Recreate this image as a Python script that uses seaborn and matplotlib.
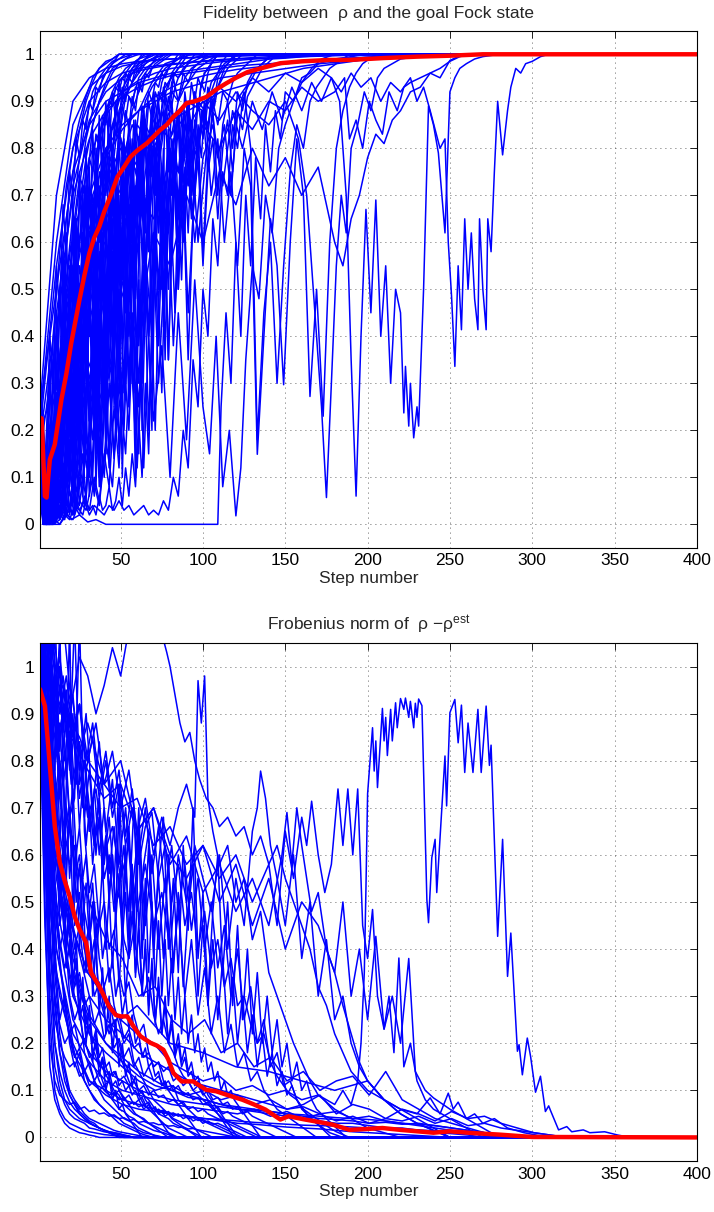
import numpy as np
import pandas as pd
import matplotlib
matplotlib.use('Agg')
import matplotlib.pyplot as plt
import seaborn as sns
from matplotlib.ticker import FuncFormatter

LAST_STEP = 400
FID_FINAL = 1.0
NORM_FINAL = 0.0

# ---------------- fidelity panel ----------------
# red mean curve
fid_mean_steps = [1, 2, 3, 4, 5, 6, 7, 10, 14, 17, 20, 25, 28, 31, 34, 37, 40, 44, 48, 52,
                  56, 60, 66, 70, 74, 78, 82, 86, 90, 95, 102, 108, 114, 120, 127, 135, 147,
                  160, 177, 189, 210, 230, 250, 270, 300, 400]
fid_mean_vals = [0.227, 0.225, 0.14, 0.06, 0.057, 0.10, 0.138, 0.17, 0.265, 0.32, 0.386, 0.478,
                 0.53, 0.577, 0.61, 0.633, 0.665, 0.70, 0.739, 0.76, 0.782, 0.795, 0.811, 0.825,
                 0.839, 0.85, 0.867, 0.88, 0.896, 0.90, 0.909, 0.925, 0.938, 0.95, 0.962, 0.97,
                 0.981, 0.985, 0.988, 0.988, 0.992, 0.995, 0.997, 1.0, 1.0, 1.0]

# runs sampled every 2 steps from step 1
fid_g01 = [0.22, 0.05, 0.00, 0.08, 0.03, 0.15, 0.06, 0.25, 0.12, 0.35, 0.20, 0.30, 0.45, 0.28, 0.55, 0.40, 0.62, 0.50, 0.70, 0.58, 0.75, 0.66, 0.80, 0.72, 0.85, 0.78, 0.88, 0.84, 0.91, 0.88, 0.94, 0.92, 0.96, 0.95, 0.97, 0.98, 0.985, 0.99, 0.995, 1.0]
fid_g02 = [0.30, 0.10, 0.02, 0.20, 0.10, 0.32, 0.22, 0.45, 0.30, 0.55, 0.48, 0.65, 0.58, 0.72, 0.68, 0.78, 0.75, 0.83, 0.80, 0.87, 0.85, 0.90, 0.89, 0.93, 0.92, 0.95, 0.94, 0.96, 0.97, 0.975, 0.98, 0.985, 0.99, 0.993, 0.996, 1.0]
fid_g03 = [0.10, 0.00, 0.01, 0.04, 0.01, 0.06, 0.02, 0.10, 0.04, 0.18, 0.08, 0.28, 0.12, 0.38, 0.20, 0.48, 0.30, 0.55, 0.42, 0.62, 0.35, 0.68, 0.50, 0.74, 0.60, 0.78, 0.66, 0.82, 0.72, 0.86, 0.80, 0.89, 0.85, 0.92, 0.90, 0.94, 0.93, 0.96, 0.95, 0.97, 0.98, 0.985, 0.99, 1.0]
fid_g04 = [0.26, 0.02, 0.10, 0.30, 0.15, 0.42, 0.25, 0.55, 0.35, 0.20, 0.48, 0.60, 0.38, 0.70, 0.52, 0.76, 0.45, 0.80, 0.65, 0.84, 0.72, 0.88, 0.78, 0.90, 0.85, 0.93, 0.90, 0.95, 0.94, 0.97, 0.96, 0.98, 0.99, 1.0]
fid_g05 = [0.05, 0.00, 0.00, 0.02, 0.00, 0.03, 0.01, 0.05, 0.02, 0.03, 0.08, 0.04, 0.12, 0.06, 0.20, 0.10, 0.30, 0.15, 0.40, 0.25, 0.50, 0.32, 0.58, 0.45, 0.66, 0.52, 0.72, 0.60, 0.78, 0.68, 0.82, 0.75, 0.86, 0.80, 0.89, 0.85, 0.92, 0.90, 0.94, 0.93, 0.96, 0.97, 0.98, 0.99, 1.0]
fid_g06 = [0.18, 0.00, 0.15, 0.05, 0.35, 0.12, 0.50, 0.25, 0.62, 0.40, 0.70, 0.30, 0.75, 0.55, 0.80, 0.48, 0.84, 0.65, 0.87, 0.72, 0.90, 0.80, 0.92, 0.86, 0.94, 0.90, 0.96, 0.95, 0.97, 0.98, 0.99, 1.0]
fid_g07 = [0.12, 0.01, 0.00, 0.01, 0.03, 0.01, 0.02, 0.06, 0.02, 0.04, 0.10, 0.03, 0.08, 0.15, 0.05, 0.22, 0.10, 0.30, 0.14, 0.38, 0.20, 0.46, 0.28, 0.55, 0.35, 0.60, 0.45, 0.68, 0.52, 0.72, 0.60, 0.78, 0.66, 0.82, 0.74, 0.86, 0.80, 0.88, 0.85, 0.91, 0.89, 0.93, 0.95, 0.96, 0.97, 0.98, 0.99, 1.0]
fid_g08 = [0.28, 0.06, 0.20, 0.40, 0.30, 0.55, 0.45, 0.68, 0.58, 0.75, 0.70, 0.82, 0.78, 0.86, 0.84, 0.90, 0.88, 0.93, 0.92, 0.95, 0.96, 0.97, 0.98, 0.99, 1.0]
fid_g09 = [0.15, 0.00, 0.04, 0.00, 0.08, 0.02, 0.15, 0.05, 0.22, 0.10, 0.32, 0.15, 0.25, 0.40, 0.18, 0.48, 0.30, 0.55, 0.22, 0.60, 0.40, 0.66, 0.35, 0.72, 0.55, 0.76, 0.48, 0.80, 0.65, 0.84, 0.72, 0.87, 0.80, 0.90, 0.86, 0.92, 0.90, 0.94, 0.96, 0.97, 0.98, 0.99, 1.0]
fid_g10 = [0.20, 0.03, 0.08, 0.18, 0.10, 0.28, 0.15, 0.38, 0.22, 0.45, 0.35, 0.55, 0.42, 0.62, 0.50, 0.68, 0.60, 0.74, 0.66, 0.79, 0.72, 0.83, 0.78, 0.86, 0.82, 0.89, 0.86, 0.91, 0.89, 0.93, 0.92, 0.95, 0.96, 0.97, 0.98, 0.99, 1.0]
fid_h01 = [0.16, 0.00, 0.02, 0.10, 0.03, 0.20, 0.05, 0.30, 0.10, 0.42, 0.15, 0.55, 0.20, 0.62, 0.30, 0.50, 0.68, 0.40, 0.72, 0.25, 0.65, 0.45, 0.78, 0.55, 0.70, 0.35, 0.80, 0.60, 0.75, 0.48, 0.82, 0.66, 0.85, 0.58, 0.80, 0.70, 0.86, 0.62, 0.88, 0.75, 0.90, 0.82, 0.88, 0.78, 0.92, 0.86, 0.94, 0.90, 0.95, 0.93, 0.96, 0.97, 0.98, 0.99, 1.0]
fid_h02 = [0.24, 0.02, 0.05, 0.02, 0.12, 0.04, 0.20, 0.08, 0.15, 0.30, 0.10, 0.40, 0.18, 0.35, 0.50, 0.22, 0.45, 0.60, 0.30, 0.55, 0.15, 0.62, 0.40, 0.70, 0.28, 0.58, 0.75, 0.45, 0.68, 0.20, 0.60, 0.78, 0.50, 0.72, 0.35, 0.80, 0.62, 0.75, 0.55, 0.84, 0.70, 0.86, 0.65, 0.88, 0.78, 0.90, 0.84, 0.92, 0.88, 0.94, 0.92, 0.96, 0.98, 0.99, 1.0]
fid_h03 = [0.08, 0.00, 0.00, 0.02, 0.05, 0.01, 0.08, 0.03, 0.12, 0.02, 0.06, 0.18, 0.04, 0.10, 0.25, 0.06, 0.15, 0.30, 0.08, 0.20, 0.38, 0.12, 0.28, 0.45, 0.15, 0.35, 0.52, 0.25, 0.42, 0.10, 0.50, 0.30, 0.58, 0.40, 0.20, 0.62, 0.45, 0.68, 0.35, 0.70, 0.55, 0.75, 0.50, 0.80, 0.62, 0.82, 0.70, 0.86, 0.78, 0.88, 0.84, 0.90, 0.92, 0.94, 0.96, 0.98, 0.99, 1.0]
fid_h04 = [0.28, 0.04, 0.15, 0.35, 0.12, 0.45, 0.22, 0.58, 0.30, 0.10, 0.48, 0.65, 0.25, 0.55, 0.70, 0.40, 0.62, 0.15, 0.50, 0.72, 0.35, 0.66, 0.78, 0.45, 0.60, 0.80, 0.30, 0.68, 0.82, 0.55, 0.75, 0.85, 0.62, 0.80, 0.88, 0.72, 0.90, 0.82, 0.92, 0.88, 0.94, 0.96, 0.97, 0.98, 0.99, 1.0]
fid_h05 = [0.14, 0.00, 0.01, 0.00, 0.02, 0.01, 0.03, 0.01, 0.02, 0.04, 0.02, 0.05, 0.03, 0.02, 0.05, 0.03, 0.04, 0.02, 0.06, 0.03, 0.04, 0.08, 0.03, 0.05, 0.10, 0.04, 0.12, 0.06, 0.15, 0.08, 0.22, 0.10, 0.30, 0.15, 0.40, 0.20, 0.48, 0.28, 0.55, 0.35, 0.62, 0.45, 0.70, 0.52, 0.76, 0.62, 0.80, 0.70, 0.85, 0.78, 0.88, 0.84, 0.91, 0.89, 0.93, 0.95, 0.97, 0.98, 0.99, 1.0]
fid_h06 = [0.20, 0.01, 0.06, 0.15, 0.05, 0.25, 0.10, 0.18, 0.35, 0.08, 0.28, 0.45, 0.12, 0.32, 0.52, 0.20, 0.40, 0.08, 0.30, 0.58, 0.15, 0.45, 0.65, 0.22, 0.50, 0.10, 0.40, 0.68, 0.30, 0.55, 0.72, 0.20, 0.48, 0.75, 0.38, 0.62, 0.80, 0.50, 0.70, 0.84, 0.60, 0.78, 0.88, 0.72, 0.85, 0.90, 0.82, 0.92, 0.88, 0.94, 0.96, 0.97, 0.98, 0.99, 1.0]

# runs sampled every 3 steps from step 1
fid_m01 = [0.20, 0.00, 0.02, 0.10, 0.05, 0.25, 0.10, 0.40, 0.15, 0.50, 0.22, 0.62, 0.30, 0.70, 0.45, 0.78, 0.55, 0.82, 0.60, 0.86, 0.70, 0.88, 0.65, 0.90, 0.80, 0.93, 0.85, 0.95, 0.90, 0.96, 0.94, 0.97, 0.98, 0.99, 1.0]
fid_m02 = [0.18, 0.00, 0.05, 0.02, 0.15, 0.03, 0.30, 0.08, 0.45, 0.12, 0.20, 0.55, 0.10, 0.35, 0.65, 0.25, 0.50, 0.72, 0.30, 0.60, 0.15, 0.68, 0.40, 0.75, 0.50, 0.80, 0.35, 0.70, 0.85, 0.60, 0.88, 0.75, 0.90, 0.82, 0.93, 0.88, 0.95, 0.97, 0.98, 0.99, 1.0]
fid_m03 = [0.10, 0.00, 0.00, 0.01, 0.00, 0.02, 0.01, 0.04, 0.02, 0.06, 0.03, 0.10, 0.05, 0.15, 0.08, 0.25, 0.12, 0.35, 0.20, 0.48, 0.30, 0.55, 0.40, 0.62, 0.38, 0.70, 0.50, 0.75, 0.65, 0.80, 0.72, 0.84, 0.78, 0.88, 0.85, 0.90, 0.93, 0.95, 0.97, 0.98, 0.99, 1.0]
fid_m04 = [0.25, 0.03, 0.12, 0.40, 0.20, 0.55, 0.30, 0.65, 0.25, 0.72, 0.45, 0.30, 0.68, 0.50, 0.78, 0.40, 0.82, 0.60, 0.86, 0.70, 0.55, 0.88, 0.75, 0.92, 0.85, 0.90, 0.94, 0.96, 0.95, 0.97, 0.98, 0.985, 0.99, 0.995, 1.0]
fid_m05 = [0.15, 0.00, 0.01, 0.03, 0.08, 0.02, 0.12, 0.04, 0.03, 0.05, 0.02, 0.04, 0.03, 0.02, 0.04, 0.03, 0.05, 0.03, 0.04, 0.02, 0.03, 0.04, 0.02, 0.03, 0.02, 0.05, 0.03, 0.10, 0.06, 0.20, 0.12, 0.35, 0.25, 0.50, 0.40, 0.65, 0.55, 0.75, 0.70, 0.85, 0.80, 0.90, 0.93, 0.95, 0.97, 0.98, 0.99, 1.0]
fid_k01 = [0.20, 0.01, 0.05, 0.12, 0.06, 0.20, 0.10, 0.30, 0.15, 0.40, 0.22, 0.50, 0.30, 0.45, 0.60, 0.35, 0.55, 0.68, 0.40, 0.62, 0.72, 0.50, 0.70, 0.58, 0.78, 0.45, 0.72, 0.82, 0.60, 0.78, 0.85, 0.70, 0.82, 0.88, 0.75, 0.90, 0.85, 0.92, 0.90, 0.94, 0.96, 0.97, 0.98, 0.99, 1.0]
fid_k02 = [0.26, 0.02, 0.10, 0.04, 0.18, 0.08, 0.28, 0.12, 0.38, 0.18, 0.48, 0.25, 0.55, 0.32, 0.15, 0.45, 0.62, 0.28, 0.52, 0.70, 0.38, 0.60, 0.20, 0.55, 0.75, 0.42, 0.68, 0.80, 0.50, 0.72, 0.35, 0.66, 0.84, 0.58, 0.78, 0.88, 0.70, 0.85, 0.90, 0.80, 0.92, 0.88, 0.94, 0.96, 0.97, 0.98, 0.99, 1.0]
fid_k03 = [0.12, 0.00, 0.02, 0.00, 0.04, 0.01, 0.07, 0.02, 0.10, 0.04, 0.15, 0.06, 0.22, 0.10, 0.30, 0.14, 0.38, 0.20, 0.45, 0.28, 0.52, 0.12, 0.40, 0.58, 0.30, 0.50, 0.65, 0.38, 0.58, 0.72, 0.45, 0.66, 0.78, 0.55, 0.75, 0.82, 0.65, 0.80, 0.86, 0.75, 0.88, 0.84, 0.91, 0.93, 0.95, 0.97, 0.98, 0.99, 1.0]

# runs sampled every 4 steps from step 1
fid_f01 = [0.25, 0.02, 0.10, 0.35, 0.52, 0.66, 0.78, 0.86, 0.92, 0.95, 0.97, 0.985, 0.99, 0.995, 1.0]
fid_f02 = [0.30, 0.05, 0.20, 0.45, 0.38, 0.62, 0.74, 0.70, 0.85, 0.90, 0.93, 0.96, 0.98, 0.99, 0.995, 1.0]
fid_f03 = [0.22, 0.00, 0.04, 0.12, 0.30, 0.48, 0.40, 0.62, 0.75, 0.82, 0.88, 0.92, 0.95, 0.97, 0.98, 0.99, 0.995, 1.0]
fid_f04 = [0.18, 0.01, 0.02, 0.08, 0.25, 0.15, 0.42, 0.55, 0.68, 0.60, 0.78, 0.85, 0.90, 0.93, 0.96, 0.975, 0.985, 0.99, 0.995, 1.0]
fid_f05 = [0.28, 0.03, 0.00, 0.05, 0.18, 0.35, 0.28, 0.50, 0.44, 0.66, 0.72, 0.80, 0.87, 0.91, 0.94, 0.96, 0.98, 0.99, 0.995, 1.0]
fid_f06 = [0.12, 0.00, 0.06, 0.22, 0.10, 0.30, 0.55, 0.45, 0.70, 0.62, 0.80, 0.75, 0.88, 0.92, 0.90, 0.95, 0.97, 0.98, 0.99, 1.0]
fid_f07 = [0.20, 0.02, 0.00, 0.02, 0.10, 0.04, 0.20, 0.35, 0.25, 0.48, 0.60, 0.52, 0.72, 0.80, 0.76, 0.88, 0.91, 0.94, 0.96, 0.98, 0.985, 0.99, 0.995, 1.0]
fid_f08 = [0.15, 0.00, 0.01, 0.15, 0.40, 0.60, 0.72, 0.82, 0.88, 0.93, 0.96, 0.98, 0.99, 1.0]
fid_f09 = [0.26, 0.08, 0.30, 0.50, 0.65, 0.75, 0.84, 0.90, 0.94, 0.97, 0.98, 0.99, 1.0]
fid_f10 = [0.10, 0.00, 0.00, 0.03, 0.12, 0.30, 0.18, 0.45, 0.38, 0.58, 0.50, 0.70, 0.65, 0.80, 0.85, 0.82, 0.90, 0.93, 0.95, 0.97, 0.98, 0.99, 1.0]
fid_f11 = [0.24, 0.01, 0.05, 0.02, 0.08, 0.20, 0.12, 0.35, 0.28, 0.50, 0.42, 0.62, 0.55, 0.70, 0.78, 0.72, 0.85, 0.82, 0.90, 0.93, 0.95, 0.97, 0.98, 0.99, 0.995, 1.0]
fid_f12 = [0.05, 0.00, 0.10, 0.28, 0.45, 0.35, 0.60, 0.72, 0.66, 0.82, 0.87, 0.91, 0.94, 0.96, 0.98, 0.99, 1.0]
fid_f13 = [0.22, 0.00, 0.00, 0.01, 0.05, 0.02, 0.12, 0.06, 0.25, 0.15, 0.40, 0.30, 0.55, 0.48, 0.68, 0.60, 0.75, 0.82, 0.78, 0.88, 0.92, 0.90, 0.95, 0.97, 0.98, 0.99, 0.995, 1.0]
fid_f14 = [0.30, 0.12, 0.40, 0.58, 0.72, 0.80, 0.86, 0.91, 0.95, 0.97, 0.985, 0.99, 1.0]
fid_f15 = [0.16, 0.02, 0.15, 0.05, 0.32, 0.20, 0.50, 0.38, 0.65, 0.55, 0.74, 0.68, 0.83, 0.79, 0.88, 0.92, 0.95, 0.97, 0.98, 0.99, 1.0]
fid_f16 = [0.20, 0.00, 0.02, 0.06, 0.02, 0.15, 0.08, 0.30, 0.18, 0.42, 0.32, 0.55, 0.45, 0.65, 0.58, 0.72, 0.66, 0.80, 0.76, 0.86, 0.83, 0.90, 0.93, 0.95, 0.97, 0.98, 0.99, 1.0]
fid_f17 = [0.08, 0.00, 0.03, 0.20, 0.50, 0.42, 0.68, 0.78, 0.85, 0.90, 0.94, 0.97, 0.98, 0.99, 1.0]
fid_f18 = [0.27, 0.04, 0.22, 0.12, 0.38, 0.55, 0.48, 0.70, 0.64, 0.80, 0.86, 0.84, 0.91, 0.94, 0.96, 0.98, 0.99, 1.0]
fid_f19 = [0.14, 0.00, 0.00, 0.00, 0.02, 0.01, 0.05, 0.03, 0.10, 0.04, 0.18, 0.08, 0.30, 0.15, 0.45, 0.25, 0.58, 0.40, 0.70, 0.55, 0.78, 0.68, 0.85, 0.80, 0.90, 0.88, 0.94, 0.96, 0.98, 0.99, 1.0]
fid_f20 = [0.23, 0.02, 0.08, 0.25, 0.18, 0.42, 0.35, 0.60, 0.52, 0.75, 0.70, 0.85, 0.82, 0.91, 0.94, 0.97, 0.98, 0.99, 1.0]
fid_l07 = [0.20, 0.00, 0.08, 0.25, 0.15, 0.40, 0.30, 0.55, 0.35, 0.65, 0.50, 0.70, 0.45, 0.75, 0.60, 0.80, 0.55, 0.72, 0.85, 0.65, 0.78, 0.88, 0.70, 0.82, 0.60, 0.75, 0.90, 0.78, 0.85, 0.70, 0.88, 0.92, 0.80, 0.18, 0.45, 0.60, 0.30, 0.55, 0.75, 0.85, 0.80, 0.90, 0.93, 0.95, 0.97, 0.98, 0.99, 1.0]
fid_l08 = [0.15, 0.01, 0.05, 0.15, 0.30, 0.20, 0.45, 0.35, 0.60, 0.40, 0.68, 0.50, 0.62, 0.75, 0.55, 0.80, 0.65, 0.85, 0.70, 0.60, 0.82, 0.75, 0.88, 0.65, 0.80, 0.90, 0.70, 0.82, 0.60, 0.75, 0.55, 0.80, 0.72, 0.149, 0.40, 0.65, 0.55, 0.297, 0.60, 0.82, 0.70, 0.272, 0.50, 0.23, 0.60, 0.80, 0.88, 0.93, 0.96, 0.98, 0.99, 1.0]

# slow runs sampled every 10 steps from step 1
fid_t01 = [0.20, 0.30, 0.55, 0.70, 0.80, 0.85, 0.88, 0.90, 0.92, 0.93, 0.94, 0.95, 0.955, 0.96, 0.965, 0.97, 0.975, 0.98, 0.983, 0.986, 0.99, 0.992, 0.994, 0.996, 0.998, 1.0]
fid_t02 = [0.25, 0.50, 0.75, 0.85, 0.90, 0.92, 0.94, 0.95, 0.96, 0.965, 0.97, 0.975, 0.98, 0.985, 0.99, 0.992, 0.995, 0.997, 1.0]
fid_t03 = [0.10, 0.20, 0.40, 0.55, 0.65, 0.72, 0.78, 0.82, 0.86, 0.88, 0.90, 0.92, 0.93, 0.94, 0.95, 0.96, 0.97, 0.975, 0.98, 0.985, 0.99, 0.992, 0.995, 0.997, 1.0]
fid_t04 = [0.18, 0.45, 0.70, 0.82, 0.88, 0.91, 0.93, 0.945, 0.955, 0.96, 0.965, 0.97, 0.975, 0.978, 0.98, 0.983, 0.986, 0.988, 0.99, 0.992, 0.994, 0.996, 0.998, 1.0]
fid_t05 = [0.05, 0.25, 0.50, 0.68, 0.78, 0.84, 0.88, 0.91, 0.93, 0.945, 0.955, 0.962, 0.968, 0.972, 0.976, 0.98, 0.984, 0.987, 0.99, 0.992, 0.994, 0.996, 0.998, 1.0]
fid_t06 = [0.22, 0.60, 0.85, 0.93, 0.96, 0.975, 0.982, 0.988, 0.99, 0.993, 0.995, 0.997, 0.998, 1.0]
fid_t07 = [0.20, 0.55, 0.80, 0.90, 0.94, 0.96, 0.97, 0.975, 0.98, 0.982, 0.985, 0.987, 0.99, 0.991, 0.992, 0.994, 0.995, 0.996, 0.997, 0.998, 1.0]
fid_t08 = [0.15, 0.40, 0.72, 0.86, 0.92, 0.95, 0.965, 0.972, 0.978, 0.982, 0.986, 0.989, 0.991, 0.993, 0.995, 0.996, 0.997, 0.998, 1.0]
fid_t09 = [0.25, 0.70, 0.90, 0.95, 0.97, 0.98, 0.985, 0.988, 0.99, 0.992, 0.994, 0.995, 0.996, 0.997, 0.998, 0.999, 1.0]
fid_t10 = [0.08, 0.30, 0.60, 0.78, 0.87, 0.92, 0.945, 0.96, 0.97, 0.975, 0.98, 0.984, 0.987, 0.99, 0.992, 0.994, 0.996, 0.997, 0.998, 1.0]

# irregular runs as (step, value)
fid_m06 = [(1, 0.12), (4, 0.00), (7, 0.02), (10, 0.05), (13, 0.01), (16, 0.03), (20, 0.01), (25, 0.02),
           (30, 0.005), (35, 0.01), (41, 0.0), (60, 0.0), (80, 0.0), (100, 0.0), (109, 0.0), (111, 0.25),
           (114, 0.45), (117, 0.30), (120, 0.60), (123, 0.40), (126, 0.70), (129, 0.55), (132, 0.78),
           (135, 0.65), (138, 0.85), (141, 0.75), (144, 0.88), (147, 0.82), (150, 0.92), (155, 0.90),
           (160, 0.95), (165, 0.96), (170, 0.98), (180, 0.99), (190, 0.995), (200, 1.0)]
fid_m07 = [(1, 0.20), (4, 0.01), (7, 0.03), (10, 0.08), (14, 0.02), (18, 0.15), (22, 0.05), (26, 0.25),
           (30, 0.10), (34, 0.32), (38, 0.08), (42, 0.40), (46, 0.15), (50, 0.28), (55, 0.45), (60, 0.12),
           (65, 0.50), (70, 0.22), (75, 0.38), (80, 0.10), (85, 0.45), (90, 0.18), (95, 0.52), (100, 0.25),
           (104, 0.15), (108, 0.40), (112, 0.08), (116, 0.20), (120, 0.018), (123, 0.12), (126, 0.35),
           (130, 0.55), (134, 0.48), (138, 0.70), (142, 0.62), (146, 0.80), (150, 0.85), (155, 0.90),
           (160, 0.94), (166, 0.97), (172, 0.99), (180, 1.0)]
fid_l01 = [(1, 0.22), (5, 0.02), (10, 0.20), (15, 0.45), (20, 0.60), (25, 0.50), (30, 0.70), (35, 0.62),
           (40, 0.78), (45, 0.70), (50, 0.82), (55, 0.75), (60, 0.85), (70, 0.80), (80, 0.88), (90, 0.84),
           (100, 0.90), (110, 0.86), (120, 0.92), (130, 0.88), (140, 0.85), (150, 0.90), (158, 0.82),
           (163, 0.70), (168, 0.45), (172, 0.25), (175, 0.057), (178, 0.30), (181, 0.55), (184, 0.70),
           (187, 0.62), (190, 0.80), (194, 0.85), (198, 0.92), (202, 0.88), (206, 0.95), (210, 0.97),
           (215, 0.98), (220, 0.99), (230, 0.995), (240, 1.0)]
fid_l02 = [(1, 0.18), (5, 0.0), (10, 0.10), (15, 0.30), (20, 0.50), (25, 0.40), (30, 0.62), (40, 0.72),
           (50, 0.80), (60, 0.75), (70, 0.86), (80, 0.82), (90, 0.90), (100, 0.88), (110, 0.93), (120, 0.90),
           (130, 0.95), (140, 0.92), (150, 0.96), (160, 0.94), (170, 0.97), (178, 0.95), (183, 0.90),
           (187, 0.70), (190, 0.35), (193, 0.06), (196, 0.40), (199, 0.67), (202, 0.45), (205, 0.69),
           (208, 0.40), (211, 0.55), (214, 0.30), (217, 0.50), (220, 0.45), (222, 0.237), (223, 0.336),
           (225, 0.209), (226, 0.30), (228, 0.184), (230, 0.25), (231, 0.209), (234, 0.50), (237, 0.89),
           (240, 0.85), (243, 0.79), (247, 0.62), (250, 0.92), (253, 0.95), (256, 0.97), (260, 0.98),
           (265, 0.99), (270, 0.995), (280, 1.0)]
fid_l03 = [(1, 0.20), (4, 0.0), (8, 0.05), (12, 0.18), (16, 0.10), (20, 0.30), (25, 0.20), (30, 0.45),
           (35, 0.30), (40, 0.55), (45, 0.40), (50, 0.62), (55, 0.50), (60, 0.70), (65, 0.55), (70, 0.75),
           (75, 0.62), (80, 0.80), (85, 0.70), (90, 0.82), (95, 0.60), (100, 0.78), (106, 0.85), (112, 0.72),
           (118, 0.88), (124, 0.80), (130, 0.90), (136, 0.84), (142, 0.92), (148, 0.86), (154, 0.93),
           (160, 0.88), (166, 0.94), (172, 0.90), (178, 0.95), (184, 0.92), (190, 0.96), (196, 0.93),
           (202, 0.95), (208, 0.90), (214, 0.94), (220, 0.92), (226, 0.95), (230, 0.90), (234, 0.93),
           (238, 0.88), (244, 0.80), (247, 0.82), (249, 0.60), (251, 0.485), (253, 0.336), (255, 0.55),
           (257, 0.414), (259, 0.65), (261, 0.50), (263, 0.62), (265, 0.48), (267, 0.414), (268, 0.65),
           (270, 0.50), (272, 0.414), (273, 0.65), (275, 0.58), (277, 0.75), (279, 0.90), (282, 0.786),
           (285, 0.88), (287, 0.93), (290, 0.97), (293, 0.96), (296, 0.98), (300, 0.985), (305, 0.995),
           (310, 1.0)]
fid_l04 = [(1, 0.15), (5, 0.0), (10, 0.05), (15, 0.20), (20, 0.12), (30, 0.35), (40, 0.25), (50, 0.50),
           (60, 0.40), (70, 0.62), (80, 0.55), (90, 0.70), (100, 0.60), (110, 0.75), (120, 0.68),
           (130, 0.80), (140, 0.72), (150, 0.78), (160, 0.70), (170, 0.76), (180, 0.60), (185, 0.55),
           (190, 0.65), (195, 0.70), (200, 0.78), (205, 0.83), (210, 0.81), (215, 0.86), (220, 0.88),
           (226, 0.92), (232, 0.93), (238, 0.96), (244, 0.97), (250, 0.985), (256, 0.995), (262, 1.0)]
fid_l05 = [(1, 0.25), (5, 0.03), (10, 0.15), (15, 0.35), (20, 0.28), (25, 0.50), (30, 0.45), (40, 0.60),
           (50, 0.55), (60, 0.70), (70, 0.65), (80, 0.78), (90, 0.72), (100, 0.85), (110, 0.80),
           (120, 0.88), (130, 0.84), (140, 0.90), (150, 0.88), (160, 0.93), (170, 0.90), (180, 0.92),
           (186, 0.95), (189, 0.82), (193, 0.86), (197, 0.80), (201, 0.90), (205, 0.86), (209, 0.83),
           (213, 0.92), (218, 0.88), (222, 0.93), (226, 0.94), (232, 0.95), (238, 0.96), (244, 0.95),
           (250, 0.987), (255, 0.995), (260, 1.0)]

# ---------------- Frobenius norm panel ----------------
norm_mean_steps = [1, 2, 4, 7, 10, 13, 16, 19, 22, 25, 29, 32, 37, 43, 47, 50, 54, 58, 62, 68,
                   72, 76, 79, 82, 87, 94, 102, 108, 114, 124, 131, 138, 147, 152, 162, 170, 179,
                   189, 200, 209, 220, 240, 250, 265, 280, 300, 400]
norm_mean_vals = [0.952, 0.94, 0.916, 0.789, 0.661, 0.584, 0.545, 0.512, 0.47, 0.442, 0.414, 0.35,
                  0.321, 0.278, 0.26, 0.257, 0.257, 0.235, 0.215, 0.201, 0.195, 0.186, 0.165, 0.137,
                  0.119, 0.119, 0.101, 0.098, 0.091, 0.08, 0.07, 0.059, 0.038, 0.045, 0.038, 0.033,
                  0.027, 0.016, 0.018, 0.02, 0.016, 0.01, 0.013, 0.009, 0.006, 0.001, 0.0]

# runs sampled every 2 steps from step 1
norm_q01 = [1.05, 0.98, 1.08, 0.90, 0.95, 0.82, 0.88, 0.75, 0.80, 0.68, 0.74, 0.60, 0.66, 0.55, 0.60, 0.48, 0.54, 0.42, 0.48, 0.38, 0.43, 0.33, 0.38, 0.30, 0.34, 0.26, 0.30, 0.23, 0.26, 0.20, 0.22, 0.17, 0.19, 0.15, 0.16, 0.13, 0.14, 0.11, 0.12, 0.10, 0.09, 0.08, 0.07, 0.06, 0.05, 0.04, 0.03, 0.02, 0.01, 0.0]
norm_q02 = [0.98, 1.10, 0.85, 1.00, 0.72, 0.90, 0.62, 0.80, 0.55, 0.70, 0.48, 0.62, 0.40, 0.55, 0.35, 0.48, 0.30, 0.42, 0.26, 0.36, 0.22, 0.30, 0.18, 0.25, 0.15, 0.20, 0.13, 0.16, 0.11, 0.13, 0.09, 0.10, 0.08, 0.07, 0.06, 0.05, 0.04, 0.03, 0.02, 0.01, 0.0]
norm_q03 = [1.00, 0.92, 0.80, 0.88, 0.65, 0.75, 0.50, 0.62, 0.40, 0.52, 0.32, 0.42, 0.26, 0.34, 0.20, 0.28, 0.16, 0.22, 0.13, 0.17, 0.10, 0.13, 0.08, 0.10, 0.06, 0.07, 0.05, 0.04, 0.03, 0.02, 0.01, 0.0]
norm_q04 = [1.08, 1.02, 0.95, 1.08, 0.88, 0.98, 0.82, 0.92, 0.76, 0.86, 0.70, 0.80, 0.66, 0.75, 0.62, 0.70, 0.58, 0.66, 0.72, 0.55, 0.64, 0.50, 0.60, 0.46, 0.56, 0.42, 0.52, 0.38, 0.48, 0.35, 0.44, 0.32, 0.40, 0.28, 0.36, 0.25, 0.32, 0.22, 0.28, 0.20, 0.24, 0.17, 0.20, 0.15, 0.17, 0.13, 0.14, 0.11, 0.12, 0.10, 0.09, 0.08, 0.07, 0.06, 0.05, 0.04, 0.03, 0.02, 0.01, 0.0]
norm_q05 = [0.93, 0.85, 0.70, 0.78, 0.55, 0.62, 0.45, 0.50, 0.36, 0.42, 0.30, 0.35, 0.25, 0.28, 0.21, 0.24, 0.18, 0.20, 0.15, 0.17, 0.13, 0.14, 0.11, 0.12, 0.10, 0.09, 0.08, 0.07, 0.06, 0.05, 0.045, 0.04, 0.035, 0.03, 0.025, 0.02, 0.015, 0.01, 0.005, 0.0]
norm_q06 = [1.15, 1.05, 1.12, 0.98, 1.06, 0.92, 1.00, 0.86, 0.95, 0.80, 0.90, 0.75, 0.84, 0.70, 0.78, 0.65, 0.72, 0.60, 0.68, 0.56, 0.64, 0.52, 0.60, 0.48, 0.70, 0.45, 0.62, 0.42, 0.58, 0.40, 0.66, 0.38, 0.55, 0.35, 0.50, 0.32, 0.46, 0.30, 0.42, 0.28, 0.38, 0.25, 0.34, 0.22, 0.30, 0.20, 0.26, 0.18, 0.22, 0.16, 0.19, 0.14, 0.16, 0.12, 0.14, 0.10, 0.12, 0.09, 0.10, 0.08, 0.07, 0.06, 0.05, 0.04, 0.03, 0.02, 0.01, 0.0]
norm_q07 = [0.96, 0.90, 0.98, 0.80, 0.88, 0.70, 0.78, 0.62, 0.70, 0.55, 0.64, 0.50, 0.58, 0.45, 0.54, 0.42, 0.50, 0.38, 0.46, 0.58, 0.40, 0.52, 0.36, 0.48, 0.32, 0.44, 0.30, 0.40, 0.55, 0.34, 0.46, 0.30, 0.42, 0.26, 0.38, 0.24, 0.34, 0.22, 0.30, 0.20, 0.26, 0.18, 0.22, 0.16, 0.19, 0.14, 0.16, 0.12, 0.13, 0.10, 0.11, 0.09, 0.08, 0.07, 0.06, 0.05, 0.04, 0.03, 0.02, 0.01, 0.0]
norm_q08 = [1.02, 0.95, 0.75, 0.85, 0.60, 0.70, 0.48, 0.56, 0.40, 0.46, 0.33, 0.38, 0.28, 0.32, 0.24, 0.27, 0.20, 0.23, 0.17, 0.19, 0.15, 0.16, 0.13, 0.14, 0.11, 0.12, 0.10, 0.11, 0.09, 0.10, 0.08, 0.085, 0.07, 0.075, 0.06, 0.065, 0.05, 0.055, 0.045, 0.05, 0.04, 0.035, 0.03, 0.025, 0.02, 0.015, 0.01, 0.005, 0.0]

# runs sampled every 3 steps from step 1
norm_n01 = [0.95, 0.60, 0.25, 0.10, 0.06, 0.04, 0.03, 0.025, 0.02, 0.015, 0.012, 0.01, 0.008, 0.006, 0.005, 0.004, 0.003, 0.002, 0.001, 0.0]
norm_n02 = [1.00, 0.80, 0.45, 0.20, 0.12, 0.08, 0.06, 0.05, 0.04, 0.035, 0.03, 0.025, 0.02, 0.015, 0.012, 0.01, 0.008, 0.005, 0.003, 0.0]
norm_n03 = [0.92, 0.85, 0.60, 0.35, 0.22, 0.15, 0.10, 0.08, 0.065, 0.05, 0.04, 0.035, 0.03, 0.025, 0.02, 0.015, 0.012, 0.01, 0.008, 0.006, 0.004, 0.002, 0.0]
norm_n04 = [1.10, 1.12, 0.75, 0.50, 0.38, 0.28, 0.22, 0.18, 0.14, 0.12, 0.10, 0.085, 0.07, 0.06, 0.05, 0.045, 0.04, 0.03, 0.025, 0.02, 0.015, 0.01, 0.008, 0.005, 0.003, 0.0]
norm_n05 = [0.97, 0.70, 0.40, 0.30, 0.18, 0.14, 0.09, 0.07, 0.055, 0.045, 0.035, 0.03, 0.02, 0.015, 0.01, 0.006, 0.003, 0.0]
norm_n06 = [1.20, 1.05, 0.88, 0.70, 0.62, 0.50, 0.45, 0.38, 0.32, 0.28, 0.22, 0.20, 0.16, 0.14, 0.12, 0.10, 0.09, 0.07, 0.06, 0.05, 0.045, 0.04, 0.03, 0.025, 0.02, 0.015, 0.01, 0.005, 0.0]
norm_n07 = [0.90, 0.50, 0.15, 0.08, 0.05, 0.03, 0.02, 0.015, 0.01, 0.008, 0.005, 0.003, 0.0]
norm_n08 = [1.05, 0.90, 1.10, 0.60, 0.55, 0.42, 0.35, 0.30, 0.26, 0.20, 0.18, 0.15, 0.12, 0.10, 0.09, 0.075, 0.06, 0.055, 0.045, 0.04, 0.03, 0.025, 0.02, 0.015, 0.012, 0.01, 0.006, 0.003, 0.0]
norm_n09 = [0.98, 0.92, 0.70, 0.55, 0.40, 0.45, 0.30, 0.25, 0.28, 0.18, 0.15, 0.12, 0.10, 0.08, 0.07, 0.06, 0.05, 0.04, 0.035, 0.03, 0.02, 0.015, 0.01, 0.005, 0.0]
norm_n10 = [1.30, 1.10, 0.95, 1.15, 0.72, 0.65, 0.58, 0.62, 0.48, 0.40, 0.45, 0.35, 0.30, 0.32, 0.25, 0.22, 0.20, 0.16, 0.14, 0.12, 0.10, 0.09, 0.08, 0.065, 0.05, 0.045, 0.04, 0.03, 0.025, 0.02, 0.015, 0.01, 0.005, 0.0]
norm_n11 = [0.94, 0.75, 0.30, 0.15, 0.10, 0.07, 0.05, 0.04, 0.035, 0.03, 0.02, 0.018, 0.015, 0.012, 0.01, 0.008, 0.006, 0.004, 0.002, 0.0]
norm_n12 = [1.15, 1.00, 0.90, 0.78, 1.08, 0.65, 0.70, 0.55, 0.60, 0.48, 0.42, 0.50, 0.38, 0.32, 0.36, 0.28, 0.24, 0.20, 0.22, 0.16, 0.14, 0.12, 0.10, 0.08, 0.07, 0.06, 0.05, 0.04, 0.035, 0.03, 0.025, 0.02, 0.015, 0.01, 0.005, 0.0]
norm_n13 = [0.96, 0.88, 0.55, 0.28, 0.18, 0.12, 0.09, 0.07, 0.05, 0.04, 0.03, 0.025, 0.02, 0.015, 0.01, 0.005, 0.0]
norm_n14 = [1.02, 0.95, 0.90, 0.72, 0.80, 0.58, 1.10, 0.45, 0.52, 0.40, 0.35, 0.42, 0.30, 0.26, 0.22, 0.25, 0.18, 0.15, 0.12, 0.10, 0.09, 0.07, 0.06, 0.05, 0.04, 0.03, 0.02, 0.015, 0.01, 0.005, 0.0]
norm_n15 = [0.93, 0.65, 0.35, 0.20, 0.14, 0.10, 0.075, 0.06, 0.05, 0.04, 0.032, 0.025, 0.02, 0.016, 0.012, 0.01, 0.008, 0.005, 0.003, 0.0]
norm_n16 = [1.08, 1.00, 0.92, 0.85, 0.75, 0.82, 0.68, 0.72, 1.10, 0.65, 0.52, 0.58, 0.45, 0.50, 0.40, 0.44, 0.35, 0.30, 0.33, 0.26, 0.22, 0.24, 0.18, 0.15, 0.16, 0.12, 0.10, 0.11, 0.08, 0.07, 0.06, 0.05, 0.04, 0.035, 0.03, 0.025, 0.02, 0.015, 0.01, 0.005, 0.0]
norm_n17 = [0.99, 0.78, 0.50, 0.38, 0.25, 0.30, 0.20, 0.15, 0.18, 0.12, 0.10, 0.08, 0.07, 0.06, 0.05, 0.04, 0.03, 0.025, 0.02, 0.015, 0.01, 0.006, 0.003, 0.0]
norm_n18 = [1.25, 1.12, 1.08, 0.98, 0.90, 0.95, 0.82, 1.10, 0.75, 0.80, 0.70, 0.62, 0.68, 0.55, 0.60, 0.48, 0.52, 0.42, 0.38, 0.44, 0.35, 0.30, 0.34, 0.26, 0.22, 0.25, 0.20, 0.18, 0.15, 0.13, 0.12, 0.10, 0.09, 0.08, 0.07, 0.06, 0.05, 0.04, 0.035, 0.03, 0.025, 0.02, 0.015, 0.01, 0.005, 0.0]
norm_r01 = [1.0, 0.95, 1.05, 0.88, 0.96, 0.80, 0.90, 0.74, 0.84, 0.68, 0.78, 0.62, 0.72, 0.58, 0.68, 0.54, 0.75, 0.50, 0.66, 0.45, 0.70, 0.42, 0.62, 0.38, 0.58, 0.68, 0.40, 0.55, 0.35, 0.62, 0.44, 0.70, 0.38, 0.52, 0.30, 0.48, 0.60, 0.35, 0.50, 0.28, 0.45, 0.25, 0.40, 0.22, 0.35, 0.20, 0.30, 0.18, 0.25, 0.15, 0.20, 0.12, 0.16, 0.10, 0.12, 0.08, 0.06, 0.05, 0.04, 0.03, 0.02, 0.01, 0.0]
norm_r02 = [0.94, 1.02, 0.90, 0.98, 0.84, 0.92, 0.78, 0.86, 0.72, 0.80, 0.65, 0.74, 0.60, 0.70, 0.56, 0.66, 0.52, 0.62, 0.48, 0.70, 0.45, 0.58, 0.65, 0.42, 0.55, 0.38, 0.60, 0.35, 0.52, 0.32, 0.48, 0.58, 0.30, 0.45, 0.28, 0.42, 0.25, 0.38, 0.22, 0.34, 0.20, 0.30, 0.18, 0.26, 0.15, 0.22, 0.13, 0.18, 0.11, 0.14, 0.09, 0.11, 0.08, 0.06, 0.05, 0.04, 0.03, 0.02, 0.01, 0.0]
norm_u01 = [1.0, 0.75, 0.50, 0.38, 0.30, 0.26, 0.22, 0.24, 0.19, 0.21, 0.17, 0.18, 0.15, 0.16, 0.13, 0.14, 0.12, 0.13, 0.11, 0.12, 0.10, 0.11, 0.09, 0.10, 0.085, 0.09, 0.075, 0.08, 0.07, 0.075, 0.06, 0.065, 0.055, 0.06, 0.05, 0.045, 0.04, 0.035, 0.03, 0.025, 0.02, 0.015, 0.01, 0.005, 0.0]
norm_u02 = [0.96, 0.60, 0.35, 0.25, 0.20, 0.17, 0.15, 0.16, 0.13, 0.14, 0.11, 0.12, 0.10, 0.11, 0.09, 0.095, 0.08, 0.085, 0.07, 0.075, 0.065, 0.07, 0.06, 0.062, 0.055, 0.058, 0.05, 0.052, 0.045, 0.048, 0.04, 0.042, 0.036, 0.038, 0.032, 0.03, 0.025, 0.02, 0.015, 0.01, 0.005, 0.0]
norm_u03 = [1.05, 0.88, 0.65, 0.50, 0.42, 0.36, 0.40, 0.32, 0.35, 0.28, 0.30, 0.24, 0.27, 0.21, 0.24, 0.19, 0.21, 0.17, 0.19, 0.15, 0.17, 0.13, 0.15, 0.12, 0.13, 0.11, 0.12, 0.10, 0.11, 0.09, 0.095, 0.08, 0.085, 0.07, 0.075, 0.06, 0.065, 0.05, 0.055, 0.045, 0.04, 0.035, 0.03, 0.025, 0.02, 0.015, 0.01, 0.005, 0.0]
norm_u04 = [0.92, 0.45, 0.20, 0.12, 0.09, 0.08, 0.07, 0.075, 0.06, 0.065, 0.055, 0.058, 0.05, 0.052, 0.045, 0.048, 0.04, 0.042, 0.036, 0.038, 0.032, 0.034, 0.03, 0.031, 0.027, 0.028, 0.024, 0.025, 0.021, 0.022, 0.018, 0.019, 0.016, 0.014, 0.012, 0.01, 0.008, 0.006, 0.004, 0.002, 0.0]
norm_u05 = [1.10, 0.95, 0.80, 0.66, 0.55, 0.47, 0.52, 0.40, 0.45, 0.35, 0.38, 0.30, 0.33, 0.27, 0.29, 0.24, 0.26, 0.21, 0.23, 0.19, 0.20, 0.17, 0.18, 0.15, 0.16, 0.14, 0.15, 0.12, 0.13, 0.11, 0.12, 0.10, 0.11, 0.09, 0.10, 0.08, 0.085, 0.07, 0.075, 0.06, 0.065, 0.05, 0.055, 0.045, 0.04, 0.035, 0.03, 0.025, 0.02, 0.015, 0.01, 0.005, 0.0]
norm_u06 = [0.99, 0.70, 0.42, 0.30, 0.24, 0.20, 0.22, 0.17, 0.19, 0.14, 0.16, 0.12, 0.14, 0.11, 0.12, 0.09, 0.10, 0.08, 0.09, 0.07, 0.08, 0.06, 0.07, 0.055, 0.06, 0.05, 0.055, 0.045, 0.05, 0.04, 0.045, 0.035, 0.04, 0.03, 0.035, 0.028, 0.03, 0.025, 0.02, 0.015, 0.01, 0.005, 0.0]

# runs sampled every 4 steps from step 1
norm_p01 = [1.10, 1.05, 0.95, 1.02, 0.90, 0.85, 0.92, 0.78, 0.85, 0.72, 0.80, 0.68, 0.75, 0.62, 0.70, 0.58, 0.66, 0.69, 0.55, 0.62, 0.50, 0.58, 0.45, 0.52, 0.40, 0.48, 0.36, 0.42, 0.32, 0.38, 0.28, 0.30, 0.24, 0.20, 0.22, 0.16, 0.13, 0.11, 0.09, 0.08, 0.06, 0.05, 0.04, 0.03, 0.02, 0.012, 0.006, 0.0]
norm_p10 = [1.02, 0.96, 1.05, 0.90, 0.98, 0.85, 0.92, 0.80, 0.88, 0.74, 0.82, 0.70, 0.78, 0.64, 0.74, 0.60, 0.70, 0.56, 0.66, 0.52, 0.62, 0.48, 0.58, 0.44, 0.55, 0.40, 0.50, 0.36, 0.45, 0.30, 0.40, 0.25, 0.32, 0.20, 0.25, 0.15, 0.18, 0.11, 0.12, 0.08, 0.06, 0.04, 0.03, 0.02, 0.01, 0.005, 0.0]
norm_p11 = [0.95, 1.08, 0.92, 1.00, 0.85, 0.94, 0.78, 0.90, 0.70, 0.84, 0.65, 0.76, 0.58, 0.70, 0.52, 0.66, 0.45, 0.60, 0.40, 0.55, 0.35, 0.48, 0.30, 0.42, 0.26, 0.36, 0.22, 0.30, 0.18, 0.24, 0.15, 0.18, 0.12, 0.14, 0.10, 0.08, 0.06, 0.05, 0.04, 0.03, 0.02, 0.01, 0.0]

# slow runs sampled every 10 steps from step 1
norm_s01 = [1.00, 0.55, 0.35, 0.25, 0.20, 0.17, 0.14, 0.12, 0.10, 0.09, 0.08, 0.07, 0.06, 0.055, 0.05, 0.045, 0.04, 0.035, 0.03, 0.03, 0.025, 0.02, 0.02, 0.015, 0.01, 0.008, 0.005, 0.0]
norm_s02 = [1.05, 0.70, 0.45, 0.30, 0.25, 0.22, 0.18, 0.16, 0.14, 0.12, 0.11, 0.10, 0.09, 0.08, 0.07, 0.06, 0.065, 0.05, 0.055, 0.04, 0.045, 0.035, 0.03, 0.025, 0.02, 0.015, 0.01, 0.005, 0.0]
norm_s03 = [0.92, 0.40, 0.20, 0.12, 0.10, 0.08, 0.07, 0.06, 0.05, 0.045, 0.04, 0.035, 0.03, 0.028, 0.025, 0.022, 0.02, 0.018, 0.015, 0.012, 0.01, 0.008, 0.006, 0.004, 0.002, 0.0]
norm_s04 = [1.10, 0.85, 0.60, 0.50, 0.42, 0.38, 0.30, 0.32, 0.25, 0.22, 0.25, 0.18, 0.20, 0.15, 0.17, 0.12, 0.14, 0.10, 0.12, 0.13, 0.09, 0.14, 0.08, 0.06, 0.04, 0.03, 0.02, 0.01, 0.005, 0.0]
norm_s05 = [0.98, 0.45, 0.25, 0.18, 0.14, 0.12, 0.10, 0.09, 0.08, 0.075, 0.07, 0.065, 0.06, 0.058, 0.055, 0.05, 0.048, 0.045, 0.042, 0.04, 0.038, 0.035, 0.03, 0.028, 0.025, 0.02, 0.015, 0.01, 0.006, 0.003, 0.0]
norm_s06 = [1.02, 0.62, 0.38, 0.26, 0.20, 0.16, 0.13, 0.11, 0.10, 0.085, 0.08, 0.07, 0.065, 0.06, 0.055, 0.05, 0.045, 0.04, 0.038, 0.035, 0.03, 0.032, 0.028, 0.03, 0.025, 0.02, 0.015, 0.01, 0.005, 0.0]
norm_s07 = [0.95, 0.50, 0.30, 0.22, 0.18, 0.15, 0.12, 0.10, 0.11, 0.09, 0.10, 0.08, 0.09, 0.07, 0.08, 0.06, 0.07, 0.09, 0.05, 0.07, 0.06, 0.04, 0.06, 0.05, 0.035, 0.055, 0.04, 0.045, 0.03, 0.02, 0.01, 0.005, 0.0]
norm_s08 = [1.0, 0.40, 0.22, 0.16, 0.12, 0.10, 0.09, 0.08, 0.07, 0.065, 0.06, 0.055, 0.05, 0.06, 0.045, 0.055, 0.04, 0.05, 0.035, 0.045, 0.03, 0.04, 0.035, 0.045, 0.03, 0.04, 0.025, 0.03, 0.02, 0.015, 0.01, 0.005, 0.0]
norm_s09 = [0.95, 0.35, 0.18, 0.12, 0.09, 0.07, 0.06, 0.055, 0.05, 0.045, 0.04, 0.038, 0.035, 0.032, 0.03, 0.028, 0.026, 0.025, 0.024, 0.022, 0.02, 0.019, 0.018, 0.016, 0.014, 0.012, 0.01, 0.008, 0.006, 0.003, 0.0]

# irregular runs as (step, value)
norm_p02 = [(1, 1.0), (5, 1.08), (10, 0.95), (15, 1.10), (20, 0.92), (25, 1.02), (30, 0.98), (35, 0.90),
            (40, 0.96), (45, 1.04), (50, 0.98), (55, 1.08), (60, 1.10), (65, 1.06), (70, 1.09), (75, 1.07),
            (78, 1.03), (80, 1.00), (83, 0.94), (86, 0.88), (89, 0.84), (92, 0.86), (95, 0.80), (98, 0.76),
            (102, 0.72), (106, 0.70), (110, 0.66), (115, 0.68), (120, 0.64), (125, 0.66), (130, 0.60),
            (135, 0.64), (140, 0.58), (145, 0.62), (150, 0.55), (155, 0.50), (160, 0.45), (165, 0.40),
            (170, 0.32), (175, 0.28), (180, 0.22), (185, 0.18), (190, 0.14), (195, 0.12), (200, 0.10),
            (210, 0.08), (220, 0.06), (230, 0.04), (240, 0.02), (250, 0.0)]
norm_p03 = [(1, 0.95), (5, 1.05), (10, 0.90), (15, 0.98), (20, 0.85), (25, 0.92), (30, 0.80), (35, 0.88),
            (40, 0.75), (45, 0.82), (50, 0.70), (55, 0.78), (60, 0.65), (65, 0.72), (70, 0.60), (75, 0.68),
            (80, 0.62), (85, 0.70), (90, 0.75), (95, 0.68), (97, 0.97), (99, 0.88), (101, 0.98), (103, 0.72),
            (106, 0.65), (110, 0.58), (115, 0.62), (120, 0.50), (125, 0.55), (130, 0.42), (135, 0.48),
            (140, 0.35), (145, 0.30), (150, 0.25), (155, 0.20), (160, 0.16), (165, 0.12), (170, 0.09),
            (180, 0.06), (190, 0.04), (200, 0.02), (210, 0.01), (220, 0.0)]
norm_p04 = [(1, 1.05), (4, 0.98), (8, 1.02), (12, 0.85), (16, 0.92), (20, 0.75), (25, 0.82), (30, 0.68),
            (35, 0.74), (40, 0.60), (45, 0.66), (50, 0.55), (55, 0.62), (60, 0.48), (65, 0.58), (70, 0.45),
            (75, 0.52), (80, 0.40), (85, 0.60), (90, 0.50), (95, 0.62), (100, 0.55), (105, 0.48),
            (110, 0.60), (115, 0.40), (120, 0.55), (125, 0.45), (130, 0.65), (133, 0.70), (135, 0.778),
            (138, 0.72), (141, 0.62), (145, 0.55), (150, 0.45), (155, 0.60), (160, 0.38), (165, 0.50),
            (170, 0.30), (175, 0.42), (180, 0.25), (185, 0.30), (190, 0.20), (195, 0.15), (200, 0.12),
            (205, 0.10), (210, 0.08), (220, 0.05), (230, 0.03), (240, 0.015), (250, 0.0)]
norm_p05 = [(1, 0.98), (5, 1.02), (10, 0.92), (15, 0.96), (20, 0.88), (25, 0.85), (30, 0.80), (40, 0.75),
            (50, 0.70), (60, 0.72), (70, 0.62), (80, 0.66), (90, 0.58), (100, 0.62), (110, 0.55),
            (120, 0.60), (130, 0.50), (140, 0.58), (145, 0.45), (150, 0.65), (155, 0.55), (160, 0.68),
            (163, 0.62), (166, 0.714), (170, 0.60), (174, 0.52), (178, 0.58), (182, 0.74), (185, 0.62),
            (188, 0.74), (191, 0.60), (194, 0.74), (197, 0.45), (200, 0.38), (203, 0.484), (206, 0.30),
            (210, 0.23), (215, 0.30), (220, 0.20), (225, 0.38), (229, 0.14), (235, 0.10), (240, 0.084),
            (250, 0.06), (260, 0.04), (270, 0.02), (280, 0.0)]
norm_p06 = [(1, 1.00), (5, 0.95), (10, 1.05), (15, 0.88), (20, 0.95), (25, 0.82), (30, 0.88), (40, 0.75),
            (50, 0.80), (60, 0.65), (70, 0.70), (80, 0.58), (90, 0.64), (100, 0.52), (110, 0.58),
            (120, 0.48), (130, 0.55), (140, 0.45), (148, 0.60), (151, 0.69), (154, 0.58), (157, 0.70),
            (160, 0.62), (163, 0.55), (166, 0.48), (170, 0.52), (175, 0.40), (180, 0.35), (185, 0.28),
            (190, 0.22), (195, 0.16), (200, 0.12), (210, 0.08), (220, 0.05), (230, 0.03), (240, 0.015),
            (250, 0.0)]
norm_p07 = [(1, 1.0), (5, 0.90), (10, 0.95), (20, 0.85), (30, 0.78), (40, 0.72), (50, 0.75), (60, 0.65),
            (70, 0.70), (80, 0.60), (90, 0.55), (100, 0.62), (110, 0.50), (120, 0.58), (130, 0.45),
            (140, 0.55), (150, 0.40), (160, 0.50), (170, 0.45), (180, 0.35), (185, 0.50), (190, 0.30),
            (195, 0.40), (200, 0.25), (205, 0.427), (210, 0.23), (213, 0.30), (216, 0.18), (219, 0.381),
            (222, 0.15), (226, 0.20), (230, 0.12), (235, 0.08), (240, 0.06), (250, 0.04), (260, 0.02),
            (270, 0.0)]
norm_p09 = [(1, 0.96), (5, 0.85), (10, 0.60), (20, 0.45), (30, 0.35), (40, 0.30), (50, 0.25), (60, 0.28),
            (80, 0.20), (100, 0.18), (120, 0.15), (140, 0.14), (160, 0.12), (180, 0.10), (200, 0.12),
            (210, 0.08), (220, 0.06), (230, 0.05), (238, 0.084), (244, 0.05), (249, 0.094), (252, 0.06),
            (255, 0.075), (260, 0.04), (265, 0.05), (270, 0.03), (277, 0.04), (285, 0.02), (295, 0.01),
            (310, 0.0)]
norm_b01 = [(1, 0.98), (5, 0.90), (10, 0.70), (15, 0.55), (20, 0.45), (30, 0.35), (40, 0.30), (50, 0.25),
            (60, 0.22), (70, 0.20), (80, 0.16), (90, 0.14), (100, 0.12), (110, 0.13), (120, 0.10),
            (130, 0.11), (140, 0.09), (150, 0.10), (160, 0.08), (170, 0.09), (180, 0.07), (185, 0.10),
            (190, 0.07), (194, 0.12), (196, 0.20), (198, 0.35), (199, 0.53), (200, 0.73), (203, 0.87),
            (204, 0.778), (205, 0.842), (206, 0.743), (209, 0.911), (210, 0.842), (211, 0.892),
            (212, 0.811), (214, 0.909), (215, 0.842), (217, 0.923), (218, 0.870), (220, 0.932),
            (222, 0.909), (223, 0.933), (225, 0.892), (226, 0.926), (228, 0.870), (229, 0.922),
            (230, 0.892), (231, 0.931), (233, 0.917), (236, 0.505), (237, 0.456), (239, 0.594),
            (241, 0.633), (242, 0.52), (247, 0.81), (248, 0.704), (250, 0.902), (253, 0.930),
            (255, 0.838), (257, 0.918), (259, 0.775), (261, 0.88), (263, 0.81), (264, 0.775),
            (267, 0.909), (269, 0.775), (272, 0.916), (274, 0.79), (275, 0.833), (279, 0.427),
            (282, 0.633), (285, 0.342), (287, 0.434), (291, 0.183), (292, 0.197), (294, 0.133),
            (297, 0.211), (299, 0.172), (302, 0.096), (305, 0.13), (308, 0.055), (310, 0.067),
            (311, 0.058), (316, 0.016), (321, 0.023), (324, 0.012), (331, 0.016), (335, 0.01),
            (344, 0.012), (352, 0.005), (360, 0.0)]


def spaced_run(values, spacing, final):
    """Values sampled every `spacing` steps from step 1, then held at `final`."""
    steps = [1 + spacing * i for i in range(len(values))]
    return steps + [LAST_STEP], list(values) + [final]


def paired_run(pairs, final):
    steps = [p[0] for p in pairs]
    vals = [p[1] for p in pairs]
    return steps + [LAST_STEP], vals + [final]


def build_frame(runs):
    frames = []
    for i, (steps, vals) in enumerate(runs):
        frames.append(pd.DataFrame({'run': i, 'step': steps, 'value': vals}))
    return pd.concat(frames, ignore_index=True)


fid_runs = []
for r in [fid_g01, fid_g02, fid_g03, fid_g04, fid_g05, fid_g06, fid_g07, fid_g08, fid_g09, fid_g10,
          fid_h01, fid_h02, fid_h03, fid_h04, fid_h05, fid_h06]:
    fid_runs.append(spaced_run(r, 2, FID_FINAL))
for r in [fid_m01, fid_m02, fid_m03, fid_m04, fid_m05, fid_k01, fid_k02, fid_k03]:
    fid_runs.append(spaced_run(r, 3, FID_FINAL))
for r in [fid_f01, fid_f02, fid_f03, fid_f04, fid_f05, fid_f06, fid_f07, fid_f08, fid_f09, fid_f10,
          fid_f11, fid_f12, fid_f13, fid_f14, fid_f15, fid_f16, fid_f17, fid_f18, fid_f19, fid_f20,
          fid_l07, fid_l08]:
    fid_runs.append(spaced_run(r, 4, FID_FINAL))
for r in [fid_t01, fid_t02, fid_t03, fid_t04, fid_t05, fid_t06, fid_t07, fid_t08, fid_t09, fid_t10]:
    fid_runs.append(spaced_run(r, 10, FID_FINAL))
for r in [fid_m06, fid_m07, fid_l01, fid_l02, fid_l03, fid_l04, fid_l05]:
    fid_runs.append(paired_run(r, FID_FINAL))

norm_runs = []
for r in [norm_q01, norm_q02, norm_q03, norm_q04, norm_q05, norm_q06, norm_q07, norm_q08]:
    norm_runs.append(spaced_run(r, 2, NORM_FINAL))
for r in [norm_n01, norm_n02, norm_n03, norm_n04, norm_n05, norm_n06, norm_n07, norm_n08, norm_n09,
          norm_n10, norm_n11, norm_n12, norm_n13, norm_n14, norm_n15, norm_n16, norm_n17, norm_n18,
          norm_r01, norm_r02, norm_u01, norm_u02, norm_u03, norm_u04, norm_u05, norm_u06]:
    norm_runs.append(spaced_run(r, 3, NORM_FINAL))
for r in [norm_p01, norm_p10, norm_p11]:
    norm_runs.append(spaced_run(r, 4, NORM_FINAL))
for r in [norm_s01, norm_s02, norm_s03, norm_s04, norm_s05, norm_s06, norm_s07, norm_s08, norm_s09]:
    norm_runs.append(spaced_run(r, 10, NORM_FINAL))
for r in [norm_p02, norm_p03, norm_p04, norm_p05, norm_p06, norm_p07, norm_p09, norm_b01]:
    norm_runs.append(paired_run(r, NORM_FINAL))

fid_df = build_frame(fid_runs)
norm_df = build_frame(norm_runs)

sns.set_style('white')
plt.rcParams['font.family'] = ['Liberation Sans', 'DejaVu Sans']
plt.rcParams['mathtext.fontset'] = 'custom'
plt.rcParams['mathtext.rm'] = 'Liberation Sans'
plt.rcParams['mathtext.default'] = 'regular'

FS = 12.5
BLUE_LW = 1.1


def style_axes(ax, title):
    ax.set_xlim(1, 400)
    ax.set_ylim(-0.05, 1.05)
    ax.set_xticks(np.arange(50, 401, 50))
    ax.set_yticks(np.round(np.arange(0, 1.01, 0.1), 1))
    ax.yaxis.set_major_formatter(FuncFormatter(lambda v, p: '%g' % v))
    ax.grid(True, linestyle=(0, (1, 5)), color='0.2', linewidth=0.6)
    ax.tick_params(direction='in', top=True, right=True, length=5, width=0.6,
                   labelsize=FS, pad=4, colors='black')
    for s in ax.spines.values():
        s.set_visible(True)
        s.set_color('black')
        s.set_linewidth(0.8)
    ax.set_xlabel('Step number', fontsize=FS, labelpad=2)
    ax.set_ylabel('')
    ax.set_title(title, fontsize=FS, pad=9)


fig = plt.figure(figsize=(7.14, 12.12), dpi=100)
ax_top = fig.add_axes([0.056, 0.548, 0.92, 0.4266])
ax_bot = fig.add_axes([0.056, 0.0421, 0.92, 0.4274])

sns.lineplot(data=fid_df, x='step', y='value', units='run', estimator=None,
             color='blue', linewidth=BLUE_LW, ax=ax_top, legend=False)
sns.lineplot(x=fid_mean_steps, y=fid_mean_vals, estimator=None,
             color='red', linewidth=3.2, ax=ax_top)
style_axes(ax_top, 'Fidelity between  \u03c1 and the goal Fock state')

sns.lineplot(data=norm_df, x='step', y='value', units='run', estimator=None,
             color='blue', linewidth=BLUE_LW, ax=ax_bot, legend=False)
sns.lineplot(x=norm_mean_steps, y=norm_mean_vals, estimator=None,
             color='red', linewidth=3.2, ax=ax_bot)
style_axes(ax_bot, 'Frobenius norm of  \u03c1 \u2212\u03c1$^{est}$')

fig.savefig('out.png', dpi=100)
